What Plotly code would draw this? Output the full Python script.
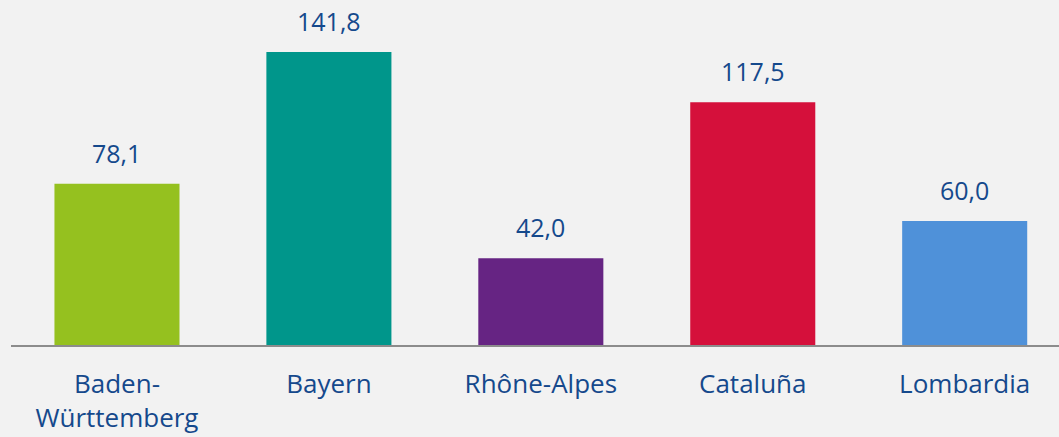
import plotly.graph_objects as go

categories = ["Baden-<br>Württemberg", "Bayern", "Rhône-Alpes", "Cataluña", "Lombardia"]
values = [78.1, 141.8, 42.0, 117.5, 60.0]
labels = ["78,1", "141,8", "42,0", "117,5", "60,0"]
colors = ["#95c11f", "#00968b", "#662483", "#d5103b", "#4f91d9"]

xpos = list(range(len(categories)))
text_color = "#15498c"
font_family = "'Open Sans', 'Noto Sans', sans-serif"

fig = go.Figure()
fig.add_trace(go.Bar(
    x=xpos, y=values, marker=dict(color=colors, line=dict(width=0)),
    width=0.59, hoverinfo="skip",
))

for x, v, t in zip(xpos, values, labels):
    fig.add_annotation(x=x, y=v, text=t, showarrow=False, yanchor="bottom",
                       yshift=12, font=dict(size=25, color=text_color, family=font_family))

fig.update_layout(
    width=1059, height=437,
    margin=dict(l=11, r=0, t=0, b=92),
    paper_bgcolor="#f2f2f2", plot_bgcolor="#f2f2f2",
    showlegend=False,
    font=dict(family=font_family, size=25, color=text_color),
    xaxis=dict(range=[-0.5, 4.445], tickmode="array", tickvals=xpos, ticktext=categories,
               showgrid=False, zeroline=False, showline=True, linecolor="#8c8c8c", linewidth=2,
               ticks="outside", ticklen=15, tickcolor="rgba(0,0,0,0)",
               tickfont=dict(size=26, color=text_color, family=font_family)),
    yaxis=dict(range=[0, 166.97], visible=False, showgrid=False, zeroline=False),
)

fig.write_html("out.html", config={"displayModeBar": False},
               post_script="document.body.style.margin='0';document.body.style.overflow='hidden';")
